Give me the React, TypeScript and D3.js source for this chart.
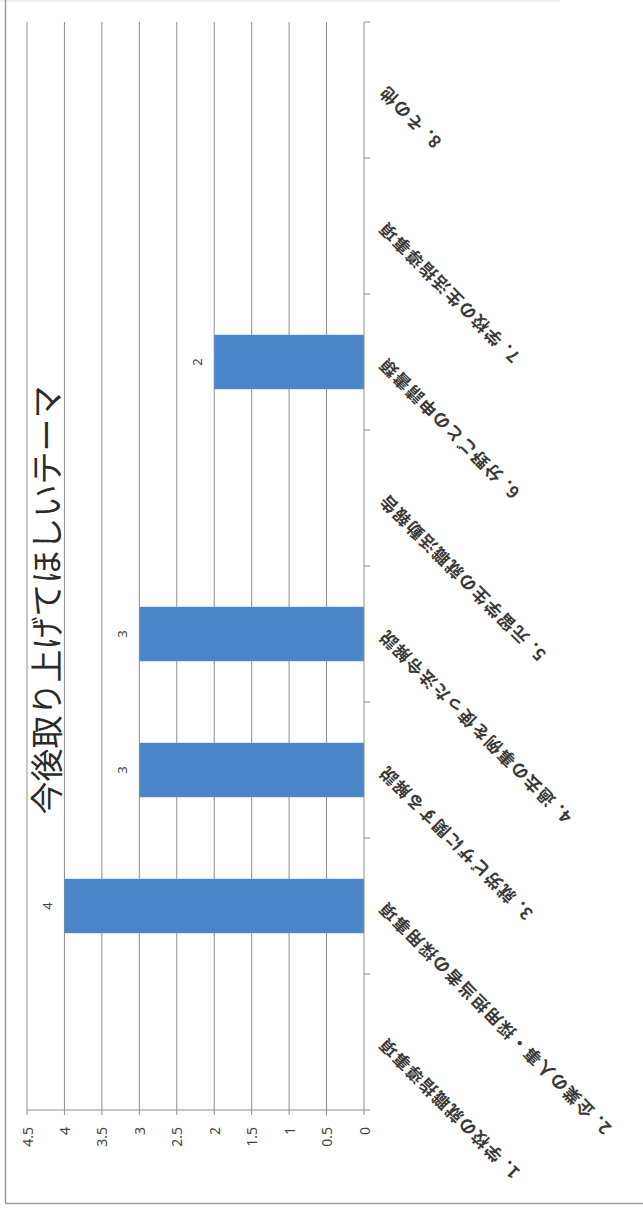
import * as d3 from "d3";

// chart is an Excel column chart, scanned and turned 90° counter-clockwise
const title = "今後取り上げてほしいテーマ";

const categories = [
  "1. 学校の就職指導事項",
  "2. 企業の人事・採用担当者の採用事項",
  "3. 就労ビザに関する解説",
  "4. 過去の事例を使った法令解説",
  "5. 元留学生の就職活動報告",
  "6. 分野ごとの申請書類",
  "7. 学校の生活指導事項",
  "8. その他",
];

const values = [0, 4, 3, 3, 0, 2, 0, 0];

const valueTicks = [0, 0.5, 1, 1.5, 2, 2.5, 3, 3.5, 4, 4.5];
const valueTickLabels = ["0", "0.5", "1", "1.5", "2", "2.5", "3", "3.5", "4", "4.5"];

const width = 643;
const height = 1214;

const App = () => {
  const x = d3.scaleLinear().domain([0, 4.5]).range([364, 27]);

  const y = d3
    .scaleBand<string>()
    .domain(categories)
    .range([1110, 22])
    .paddingInner(0.6)
    .paddingOuter(0.3);

  const step = y.step();
  const bw = y.bandwidth();
  const center = (c: string) => (y(c) ?? 0) + bw / 2;
  const [yBottom, yTop] = y.range();
  const x0 = x(0);

  const boundaries = categories
    .map((c) => center(c) + step / 2)
    .concat([center(categories[categories.length - 1]) - step / 2]);

  const grid = "#8f8f8f";
  const fontJP = "'Noto Sans CJK JP', 'Noto Sans', sans-serif";

  return (
    <svg
      width={width}
      height={height}
      style={{ position: "absolute", left: 0, top: 0, background: "#fff" }}
    >
      {/* frame */}
      <line x1={0} x2={560} y1={1} y2={1} stroke="#e2e2e2" strokeWidth={1} />
      <line x1={5.5} x2={5.5} y1={0} y2={1203} stroke="#9c9c9c" strokeWidth={1.5} />
      <line x1={5} x2={width} y1={1203.5} y2={1203.5} stroke="#9c9c9c" strokeWidth={1.5} />

      {/* gridlines */}
      <g stroke={grid} strokeWidth={1}>
        {valueTicks.slice(1).map((v) => (
          <line key={v} x1={x(v)} x2={x(v)} y1={yTop} y2={yBottom} />
        ))}
      </g>

      {/* bars */}
      <g fill="#4a86c8">
        {categories.map((c, i) =>
          values[i] > 0 ? (
            <rect key={c} x={x(values[i])} y={y(c)} width={x0 - x(values[i])} height={bw} />
          ) : null
        )}
      </g>

      {/* value axis (bottom) */}
      <line x1={x(4.5)} x2={x0} y1={yBottom} y2={yBottom} stroke={grid} strokeWidth={1} />
      <g stroke={grid} strokeWidth={1}>
        {valueTicks.map((v) => (
          <line key={v} x1={x(v)} x2={x(v)} y1={yBottom} y2={yBottom + 5} />
        ))}
      </g>
      <g fontFamily="'Noto Sans', sans-serif" fontSize={14} fill="#444">
        {valueTicks.map((v, i) => (
          <text
            key={v}
            x={x(v)}
            y={1127}
            textAnchor="end"
            dominantBaseline="central"
            transform={`rotate(-90, ${x(v)}, 1127)`}
          >
            {valueTickLabels[i]}
          </text>
        ))}
      </g>

      {/* category axis (right) */}
      <line x1={x0} x2={x0} y1={yTop} y2={yBottom} stroke={grid} strokeWidth={1} />
      <g stroke={grid} strokeWidth={1}>
        {boundaries.map((b, i) => (
          <line key={i} x1={x0} x2={x0 + 6} y1={b} y2={b} />
        ))}
      </g>
      <g fontFamily={fontJP} fontSize={17} fontWeight={700} fill="#3a3a3a" letterSpacing={1.5}>
        {categories.map((c) => (
          <text
            key={c}
            x={x0 + 17}
            y={center(c)}
            textAnchor="end"
            dominantBaseline="central"
            transform={`rotate(-135, ${x0 + 17}, ${center(c)})`}
          >
            {c}
          </text>
        ))}
      </g>

      {/* data labels */}
      <g fontFamily="'Noto Sans', sans-serif" fontSize={13} fill="#444">
        {categories.map((c, i) =>
          values[i] > 0 ? (
            <text
              key={c}
              x={x(values[i]) - 17}
              y={center(c)}
              textAnchor="middle"
              dominantBaseline="central"
              transform={`rotate(-90, ${x(values[i]) - 17}, ${center(c)})`}
            >
              {values[i]}
            </text>
          ) : null
        )}
      </g>

      {/* title */}
      <text
        x={45}
        y={600}
        fontFamily={fontJP}
        fontSize={33}
        fill="#2a2a2a"
        textAnchor="middle"
        dominantBaseline="central"
        transform="rotate(-90, 45, 600)"
      >
        {title}
      </text>
    </svg>
  );
};

export default App;
